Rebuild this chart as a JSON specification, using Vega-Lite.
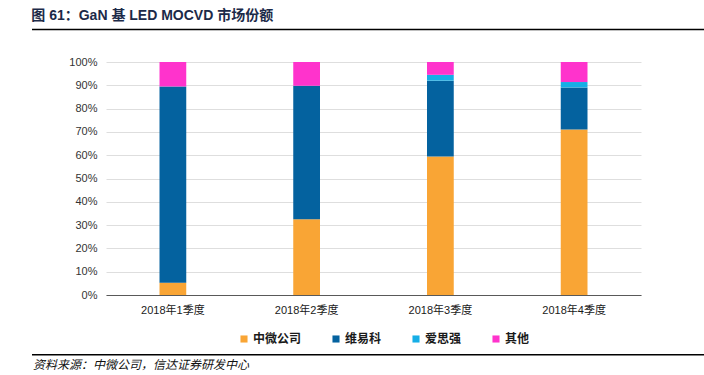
{
  "$schema": "https://vega.github.io/schema/vega-lite/v6.json",
  "width": 535,
  "height": 233,
  "autosize": {"type": "none"},
  "padding": {"left": 106, "top": 62, "right": 63, "bottom": 80},
  "background": "#ffffff",
  "title": {
    "text": "图 61：GaN 基 LED MOCVD 市场份额",
    "anchor": "start",
    "frame": "bounds",
    "font": "Liberation Sans, Noto Sans CJK SC",
    "fontSize": 14,
    "fontWeight": "bold",
    "color": "#1c2a48",
    "offset": 6
  },
  "config": {
    "view": {"stroke": null},
    "font": "Liberation Sans, Noto Sans CJK SC"
  },
  "layer": [
    {
      "data": {
        "values": [
          {"quarter": "2018年1季度", "company": "中微公司", "share": 5.3},
          {"quarter": "2018年1季度", "company": "维易科", "share": 84.2},
          {"quarter": "2018年1季度", "company": "爱思强", "share": 0},
          {"quarter": "2018年1季度", "company": "其他", "share": 10.5},
          {"quarter": "2018年2季度", "company": "中微公司", "share": 32.5},
          {"quarter": "2018年2季度", "company": "维易科", "share": 57.3},
          {"quarter": "2018年2季度", "company": "爱思强", "share": 0},
          {"quarter": "2018年2季度", "company": "其他", "share": 10.2},
          {"quarter": "2018年3季度", "company": "中微公司", "share": 59.4},
          {"quarter": "2018年3季度", "company": "维易科", "share": 32.6},
          {"quarter": "2018年3季度", "company": "爱思强", "share": 2.5},
          {"quarter": "2018年3季度", "company": "其他", "share": 5.5},
          {"quarter": "2018年4季度", "company": "中微公司", "share": 71.0},
          {"quarter": "2018年4季度", "company": "维易科", "share": 18.1},
          {"quarter": "2018年4季度", "company": "爱思强", "share": 2.3},
          {"quarter": "2018年4季度", "company": "其他", "share": 8.6}
        ]
      },
      "transform": [
        {"calculate": "indexof(['中微公司','维易科','爱思强','其他'], datum.company)", "as": "stackRank"}
      ],
      "mark": {"type": "bar"},
      "encoding": {
        "x": {
          "field": "quarter",
          "type": "nominal",
          "sort": null,
          "scale": {"paddingInner": 0.8, "paddingOuter": 0.4},
          "axis": {
            "title": null,
            "labelAngle": 0,
            "ticks": false,
            "domainColor": "#595959",
            "domainWidth": 1,
            "labelPadding": 9,
            "labelFontSize": 11,
            "labelColor": "#1a1a1a",
            "labelFont": "Liberation Sans, Noto Sans CJK SC"
          }
        },
        "y": {
          "field": "share",
          "type": "quantitative",
          "stack": "zero",
          "scale": {"domain": [0, 100], "nice": false},
          "axis": {
            "title": null,
            "values": [0, 10, 20, 30, 40, 50, 60, 70, 80, 90, 100],
            "labelExpr": "datum.value + '%'",
            "labelOverlap": false,
            "domain": false,
            "ticks": false,
            "gridColor": "#dedede",
            "gridWidth": 1,
            "labelPadding": 9,
            "labelFontSize": 11,
            "labelColor": "#333333"
          }
        },
        "order": {"field": "stackRank", "type": "quantitative", "sort": "ascending"},
        "color": {
          "field": "company",
          "type": "nominal",
          "sort": ["中微公司", "维易科", "爱思强", "其他"],
          "scale": {
            "domain": ["中微公司", "维易科", "爱思强", "其他"],
            "range": ["#f9a535", "#04629f", "#16aee6", "#ff33cc"]
          },
          "legend": {
            "title": null,
            "orient": "none",
            "legendX": 132,
            "legendY": 271,
            "direction": "horizontal",
            "symbolType": "square",
            "symbolSize": 50,
            "symbolStrokeWidth": 0,
            "labelFontSize": 12,
            "labelFontWeight": "bold",
            "labelColor": "#1a1a1a",
            "columnPadding": 28,
            "labelOffset": 3
          }
        }
      }
    },
    {
      "data": {"values": [{}]},
      "layer": [
        {
          "mark": {"type": "rule", "color": "#000000", "strokeWidth": 1.5},
          "encoding": {
            "x": {"datum": -0.1383, "type": "quantitative", "scale": {"domain": [0, 1], "zero": false, "nice": false}, "axis": null},
            "x2": {"datum": 1.118},
            "y": {"datum": 113.9, "type": "quantitative", "axis": null}
          }
        },
        {
          "mark": {"type": "rule", "color": "#000000", "strokeWidth": 1.5},
          "encoding": {
            "x": {"datum": -0.1383, "type": "quantitative"},
            "x2": {"datum": 1.118},
            "y": {"datum": -25.6, "type": "quantitative", "axis": null}
          }
        },
        {
          "mark": {
            "type": "text",
            "align": "left",
            "baseline": "middle",
            "font": "Noto Sans CJK SC",
            "fontSize": 12,
            "fontStyle": "italic",
            "color": "#111111"
          },
          "encoding": {
            "x": {"datum": -0.1364, "type": "quantitative"},
            "y": {"datum": -30.1, "type": "quantitative", "axis": null},
            "text": {"value": "资料来源：中微公司，信达证券研发中心"}
          }
        }
      ]
    }
  ],
  "resolve": {"scale": {"x": "independent"}, "axis": {"x": "independent", "y": "independent"}}
}
